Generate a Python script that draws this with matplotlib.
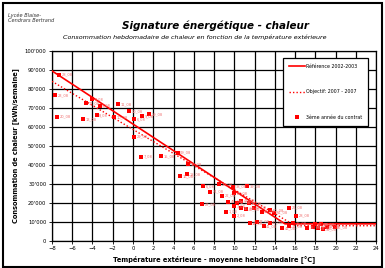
import matplotlib
matplotlib.use("Agg")
import matplotlib.pyplot as plt
from matplotlib.patches import Rectangle
from matplotlib.ticker import FuncFormatter

# Données
ref_x = [-8, 15, 24]
ref_y = [89500, 9000, 9000]
obj_x = [-8, 16, 24]
obj_y = [84000, 8000, 8000]

temps = [-7.3, -7.7, -7.5, -4.0, -4.6, -3.3, -4.9, -3.6, -1.9, -1.45, -0.4, 0.9,
         1.6, 0.1, 0.1, 0.8, 2.8, 4.4, 5.4, 4.6, 5.3, 6.9, 7.6, 8.5, 8.8, 6.8,
         9.4, 9.9, 11.3, 9.2, 10.0, 10.0, 10.3, 10.7, 11.4, 10.0, 10.7, 11.2,
         11.9, 12.7, 13.5, 13.9, 15.4, 16.1, 11.5, 12.2, 12.9, 13.5, 14.7, 15.4,
         15.8, 17.2, 18.0, 18.3, 18.8, 19.1, 19.9, 17.8, 18.6]
conso = [87400, 76800, 65400, 74600, 72500, 71200, 64000, 66300, 65100, 72100,
         68200, 65800, 66700, 64000, 54900, 44400, 44700, 46500, 40500, 34200,
         35100, 28900, 26000, 30000, 23800, 19500, 20700, 28600, 28900, 15400,
         13300, 25100, 20200, 21200, 19800, 18400, 17200, 16700, 17500, 15400,
         16300, 14900, 17500, 13200, 9300, 10200, 7900, 9600, 6700, 7900, 9500,
         7000, 8800, 6700, 6200, 7500, 7200, 7500, 8800]
semaines = ["28_08", "23_08", "20_08", "4_08", "12_08", "5_08", "13_08", "8_08",
            "10_08", "11_08", "10_08", "9_08", "19_08", "6_08", "29_08", "7_08",
            "15_08", "09_08", "30_08", "16_08", "18_08", "6_08", "24_08", "20_08",
            "22_08", "27_08", "45_08", "38_08", "39_08", "1_08", "2_08", "21_08",
            "42_08", "43_08", "44_08", "3_08", "46_08", "47_08", "48_08", "49_08",
            "50_08", "51_08", "26_08", "28_08", "14_08", "17_08", "41_08", "40_08",
            "42_08", "37_08", "36_08", "35_08", "33_08", "34_08", "32_08", "31_08",
            "25_08", "27_08", "26_08"]

fig = plt.figure(figsize=(3.85, 2.68), dpi=100)
ax = fig.add_axes([0.135, 0.101, 0.842, 0.709])

ax.plot(ref_x, ref_y, color="red", lw=1.2, label="Référence 2002-2003", zorder=3)
ax.plot(obj_x, obj_y, color="red", lw=1.0, ls=(0, (1, 1.5)),
        label="Objectif: 2007 - 2007", zorder=3)
ax.scatter(temps, conso, s=5, color="red", marker="s", lw=0,
           label="3ème année du contrat", zorder=4)
for t, c, s in zip(temps, conso, semaines):
    ax.text(t + 0.25, c, s, fontsize=2.6, color="#f07070", va="center", zorder=4)

ax.set_xlim(-8, 24)
ax.set_ylim(0, 100000)
ax.set_xticks(range(-8, 25, 2))
ax.set_yticks(range(0, 100001, 10000))
ax.yaxis.set_major_formatter(FuncFormatter(lambda v, p: f"{int(v):,}".replace(",", "'")))
ax.grid(True, color="black", lw=0.9)
ax.tick_params(labelsize=3.8, length=2, width=0.6, pad=2)
for sp in ax.spines.values():
    sp.set_linewidth(0.9)

ax.set_xlabel("Température extérieure - moyenne hebdomadaire [°C]", fontsize=4.8,
              fontweight="bold", labelpad=2.5)
ax.set_ylabel("Consommation de chaleur [kWh/semaine]", fontsize=4.8,
              fontweight="bold", labelpad=4)

leg = ax.legend(loc="upper right", bbox_to_anchor=(0.976, 0.963), fontsize=3.4,
                frameon=True, fancybox=False, edgecolor="black", framealpha=1,
                borderpad=1.3, labelspacing=4.3, handlelength=3.2,
                handletextpad=0.3, borderaxespad=0, markerscale=1.0)
leg.get_frame().set_linewidth(0.9)

fig.text(0.02, 0.955, "Lycée Blaise-\nCendrars Bertrand", fontsize=3.6, style="italic",
         va="top", ha="left", color="#333333", linespacing=1.1)
fig.text(0.56, 0.905, "Signature énergétique - chaleur", fontsize=7.5,
         fontweight="bold", style="italic", ha="center", va="center")
fig.text(0.505, 0.862, "Consommation hebdomadaire de chaleur en fonction de la température extérieure",
         fontsize=4.6, style="italic", ha="center", va="center")

fig.patches.append(Rectangle((0.008, 0.005), 0.984, 0.985, transform=fig.transFigure,
                             fill=False, edgecolor="black", lw=1.5))

fig.savefig("out.png", dpi=100)
